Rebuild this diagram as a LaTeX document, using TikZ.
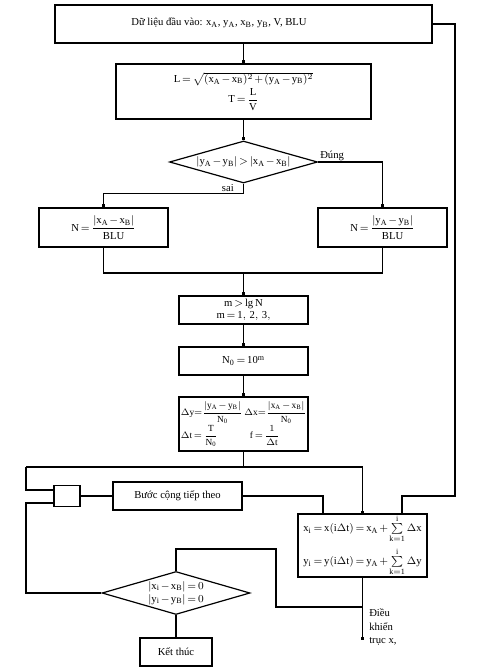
\documentclass[tikz,border=0pt]{standalone}
\usepackage{amsmath}
\usepackage{fontspec}
\setmainfont{Liberation Serif}
\usetikzlibrary{arrows.meta,shapes.geometric,calc}
\newcommand{\rr}[1]{\mathrm{#1}}
\medmuskip=2mu plus 1mu minus 1mu
\thickmuskip=3mu plus 2mu
\begin{document}
\begin{tikzpicture}[x=0.75pt,y=-0.75pt,
  ln/.style={line width=0.9pt},
  tip/.style={-{Square[length=2.2pt,width=2.2pt]}},
  box/.style={draw,line width=0.9pt,inner sep=1pt,font=\fontsize{8}{9.5}\selectfont,align=center},
  dia/.style={draw,diamond,line width=0.9pt,inner sep=0pt,aspect=3.45,font=\fontsize{8}{9.5}\selectfont,align=center},
  lbl/.style={font=\fontsize{8}{9.5}\selectfont,inner sep=0pt}]
\useasboundingbox (0,0) rectangle (478,670);

% boxes
\node[box,minimum width=282.75pt,minimum height=28.5pt] (b1) at (243.5,24) {};
\node[lbl] (t1) at (219,23) {Dữ liệu đầu vào: $\rr{x_A}$, $\rr{y_A}$, $\rr{x_B}$, $\rr{y_B}$, V, BLU};
\node[box,minimum width=191.25pt,minimum height=41.25pt] (b2) at (243.5,91.5)
  {$\rr{L}=\sqrt{(\rr{x_A}-\rr{x_B})^2+(\rr{y_A}-\rr{y_B})^2}$\\[1pt] $\rr{T}=\dfrac{\rr{L}}{\rr{V}}$};
\node[dia,minimum width=111pt,minimum height=31.5pt] (d1) at (243.5,162)
  {$|\rr{y_A}-\rr{y_B}|>|\rr{x_A}-\rr{x_B}|$};
\node[box,minimum width=96.75pt,minimum height=29.25pt] (bL) at (103.5,227.5)
  {$\rr{N}=\dfrac{|\rr{x_A}-\rr{x_B}|}{\rr{BLU}}$};
\node[box,minimum width=96.75pt,minimum height=29.25pt] (bR) at (382.5,227.5)
  {$\rr{N}=\dfrac{|\rr{y_A}-\rr{y_B}|}{\rr{BLU}}$};
\node[box,minimum width=96.75pt,minimum height=21pt] (bm) at (243.5,310)
  {$\rr{m>lg\,N}$\\$\rr{m=1,\,2,\,3,}$};
\node[box,minimum width=96.75pt,minimum height=21pt] (bn) at (243.5,361)
  {$\rr{N_0=10^m}$};
\node[box,minimum width=96.75pt,minimum height=40.5pt,inner sep=0.3pt,align=left,
      font=\fontsize{7}{8}\selectfont] (bd) at (243.5,424)
  {$\Delta\rr{y}{=}\dfrac{|\rr{y_A}-\rr{y_B}|}{\rr{N_0}}\,\Delta\rr{x}{=}\dfrac{|\rr{x_A}-\rr{x_B}|}{\rr{N_0}}$\\
   $\Delta\rr{t}=\dfrac{\rr{T}}{\rr{N_0}}$\hspace{24pt}$\rr{f}=\dfrac{1}{\Delta\rr{t}}$};
\node[box,minimum width=19.5pt,minimum height=15.75pt] (bs) at (67,496) {};
\node[box,minimum width=96.75pt,minimum height=21pt] (bb) at (177.5,496) {Bước cộng tiếp theo};
\node[box,minimum width=96.75pt,minimum height=42.75pt,align=left,inner sep=0.5pt] (bx) at (362.5,545.5)
  {$\rr{x_i}=\rr{x}(\rr{i}\Delta\rr{t})=\rr{x_A}+\sum\limits_{\rr{k=1}}^{\rr{i}}\Delta\rr{x}$\\[3pt]
   $\rr{y_i}=\rr{y}(\rr{i}\Delta\rr{t})=\rr{y_A}+\sum\limits_{\rr{k=1}}^{\rr{i}}\Delta\rr{y}$};
\node[dia,minimum width=111pt,minimum height=32.25pt] (d2) at (176,593)
  {$|\rr{x_i}-\rr{x_B}|=0$\\$|\rr{y_i}-\rr{y_B}|=0$};
\node[box,minimum width=54pt,minimum height=21pt] (bk) at (176,652) {Kết thúc};

% labels
\node[lbl,anchor=base west] (lD) at (320,159) {Đúng};
\node[lbl,anchor=base east] (ls) at (234,191.5) {sai};
\node[lbl,anchor=north west,align=left,font=\fontsize{8}{10}\selectfont] (lk) at (369,609) {Điều\\khiển\\trục x,};

% helper coordinates
\coordinate (j1) at (243.5,273);
\coordinate (lc) at (26,467);
\coordinate (ll) at (26,593);
\coordinate (r1) at (455,496);
\coordinate (j3) at (362.5,607);
\coordinate (c4) at (276,549);
\coordinate (out) at (362.5,640);

% connectors
\draw[ln,tip] (b1.south) -- (b2.north);
\draw[ln,tip] (b2.south) -- (d1.north);
\draw[ln,tip] (d1.east) -| (bR.north);
\draw[ln,tip] (d1.south) -- ++(0,10) -| (bL.north);
\draw[ln] (bL.south) |- (j1) -| (bR.south);
\draw[ln,tip] (j1) -- (bm.north);
\draw[ln,tip] (bm.south) -- (bn.north);
\draw[ln,tip] (bn.south) -- (bd.north);
\draw[ln] (bd.south) -- (bd.south |- lc);
\draw[ln,tip] (lc) -| (bx.north);
\draw[ln] (lc) |- ($(bs.west)+(0,-6)$);
\draw[ln] ($(bs.west)+(0,7)$) -| (ll) -- (d2.west);
\draw[ln] (bs.east) -- (bb.west);
\draw[ln,tip] (bb.east) -| ($(bx.north)+(-39.5,0)$);
\draw[ln,tip] (b1.east) -| (r1) -| ($(bx.north)+(39.5,0)$);
\draw[ln] (bx.south) -- (j3);
\draw[ln,tip] (j3) -- (out);
\draw[ln,tip] (j3) -| (c4) -| (d2.north);
\draw[ln,tip] (d2.south) -- (bk.north);
\end{tikzpicture}
\end{document}
